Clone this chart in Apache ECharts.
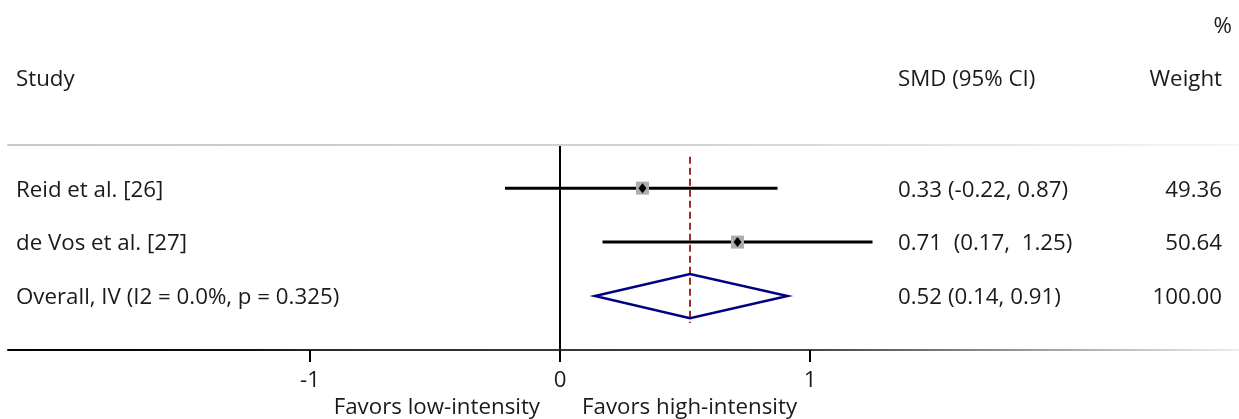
<!DOCTYPE html>
<html>
<head>
<meta charset="utf-8">
<script src="https://cdn.jsdelivr.net/npm/echarts@6/dist/echarts.min.js"></script>
<style>
  html, body { margin: 0; padding: 0; background: #fff; }
  #chart { width: 1239px; height: 419px; }
</style>
</head>
<body>
<div id="chart"></div>
<script>
// studies
const studies = ['Reid et al. [26]', 'de Vos et al. [27]']
const smd = [0.33, 0.71]
const lower = [-0.22, 0.17]
const upper = [0.87, 1.25]
const ciText = ['0.33 (-0.22, 0.87)', '0.71  (0.17,  1.25)']
const weights = ['49.36', '50.64']

// pooled estimate
const overallLabel = 'Overall, IV (I2 = 0.0%, p = 0.325)'
const overallSmd = 0.52
const overallLower = 0.14
const overallUpper = 0.91
const overallCiText = '0.52 (0.14, 0.91)'
const overallWeight = '100.00'

const xTicks = [-1, 0, 1]
const bottomLabels = ['Favors low-intensity', 'Favors high-intensity']

const FONT = '22.3px "Open Sans", sans-serif'
const TEXT = '#1a1a1a'
const nRows = studies.length + 1
const rowY = (k) => nRows - k

const chart = echarts.init(document.getElementById('chart'))

const rows = studies.map((s, i) => [smd[i], lower[i], upper[i], i, s, ciText[i], weights[i], 0])
rows.push([overallSmd, overallLower, overallUpper, studies.length, overallLabel, overallCiText, overallWeight, 1])

function renderRow(params, api) {
  const est = api.value(0)
  const lo = api.value(1)
  const hi = api.value(2)
  const k = api.value(3)
  const row = rows[params.dataIndex]
  const y = rowY(k)
  const c = api.coord([est, y])
  const ty = c[1] + 2
  const children = []

  children.push(
    { type: 'text', x: 16, y: ty, style: { text: row[4], font: FONT, fill: TEXT, textAlign: 'left', verticalAlign: 'middle' } },
    { type: 'text', x: 898, y: ty, style: { text: row[5], font: FONT, fill: TEXT, textAlign: 'left', verticalAlign: 'middle' } },
    { type: 'text', x: 1222, y: ty, style: { text: row[6], font: FONT, fill: TEXT, textAlign: 'right', verticalAlign: 'middle' } }
  )

  if (row[7] === 0) {
    const a = api.coord([lo, y])
    const b = api.coord([hi, y])
    children.push(
      { type: 'line', shape: { x1: a[0], y1: a[1], x2: b[0], y2: b[1] }, style: { stroke: '#000', lineWidth: 3 } },
      { type: 'rect', shape: { x: c[0] - 6.5, y: c[1] - 6.5, width: 13, height: 13 }, style: { fill: '#adadad' } },
      { type: 'polygon', shape: { points: [[c[0], c[1] - 5], [c[0] + 4, c[1]], [c[0], c[1] + 5], [c[0] - 4, c[1]]] }, style: { fill: '#000' } }
    )
  } else {
    const h = 0.41
    const p1 = api.coord([lo, y])
    const p2 = api.coord([est, y + h])
    const p3 = api.coord([hi, y])
    const p4 = api.coord([est, y - h])
    // reference line at pooled estimate
    const t = api.coord([est, rowY(0) + 0.58])
    const u = api.coord([est, y - 0.5])
    children.push(
      { type: 'line', shape: { x1: t[0], y1: t[1], x2: u[0], y2: u[1] }, style: { stroke: '#9b2f2f', lineWidth: 2, lineDash: [7, 4] } },
      { type: 'polygon', shape: { points: [p1, p2, p3, p4] }, style: { fill: 'none', stroke: '#000080', lineWidth: 2.5 } }
    )
  }
  return { type: 'group', children }
}

const option = {
  animation: false,
  grid: { left: 8, right: 0, top: 145, bottom: 69, containLabel: false },
  xAxis: [
    {
      type: 'value',
      min: -2.208,
      max: 2.716,
      position: 'bottom',
      splitLine: { show: false },
      axisLine: {
        onZero: false,
        lineStyle: {
          width: 2,
          color: {
            type: 'linear', x: 0, y: 0, x2: 1, y2: 0,
            colorStops: [
              { offset: 0, color: '#000' },
              { offset: 0.2, color: '#111' },
              { offset: 0.25, color: '#2a2a2a' },
              { offset: 0.65, color: '#444' },
              { offset: 1, color: '#eeeeee' }
            ]
          }
        }
      },
      axisTick: { show: true, customValues: xTicks, length: 12, lineStyle: { color: '#000', width: 2 } },
      axisLabel: { customValues: xTicks, margin: 20, fontSize: 22.3, fontFamily: 'Open Sans', color: TEXT, formatter: (v) => String(v) }
    },
    {
      type: 'value',
      min: -2.208,
      max: 2.716,
      position: 'top',
      splitLine: { show: false },
      axisTick: { show: false },
      axisLabel: { show: false },
      axisLine: {
        onZero: false,
        lineStyle: {
          width: 2,
          color: {
            type: 'linear', x: 0, y: 0, x2: 1, y2: 0,
            colorStops: [
              { offset: 0, color: '#c8c8c8' },
              { offset: 0.55, color: '#d2d2d2' },
              { offset: 1, color: '#f6f6f6' }
            ]
          }
        }
      }
    }
  ],
  yAxis: {
    type: 'value',
    min: 0,
    max: 3.8,
    splitLine: { show: false },
    axisTick: { show: false },
    axisLabel: { show: false },
    axisLine: { show: true, onZero: true, lineStyle: { color: '#000', width: 2 } }
  },
  graphic: [
    { type: 'text', x: 1232, y: 27, style: { text: '%', font: FONT, fill: TEXT, textAlign: 'right', verticalAlign: 'middle' } },
    { type: 'text', x: 16, y: 80, style: { text: 'Study', font: FONT, fill: TEXT, textAlign: 'left', verticalAlign: 'middle' } },
    { type: 'text', x: 898, y: 80, style: { text: 'SMD (95% CI)', font: FONT, fill: TEXT, textAlign: 'left', verticalAlign: 'middle' } },
    { type: 'text', x: 1222, y: 80, style: { text: 'Weight', font: FONT, fill: TEXT, textAlign: 'right', verticalAlign: 'middle' } },
    { type: 'text', x: 540, y: 408, style: { text: bottomLabels[0], font: FONT, fill: TEXT, textAlign: 'right', verticalAlign: 'middle' } },
    { type: 'text', x: 582, y: 408, style: { text: bottomLabels[1], font: FONT, fill: TEXT, textAlign: 'left', verticalAlign: 'middle' } }
  ],
  series: [
    {
      type: 'custom',
      clip: false,
      renderItem: renderRow,
      encode: { x: [0, 1, 2], y: 3 },
      data: rows.map(r => r.slice(0, 4))
    }
  ]
}

chart.setOption(option)
</script>
</body>
</html>
